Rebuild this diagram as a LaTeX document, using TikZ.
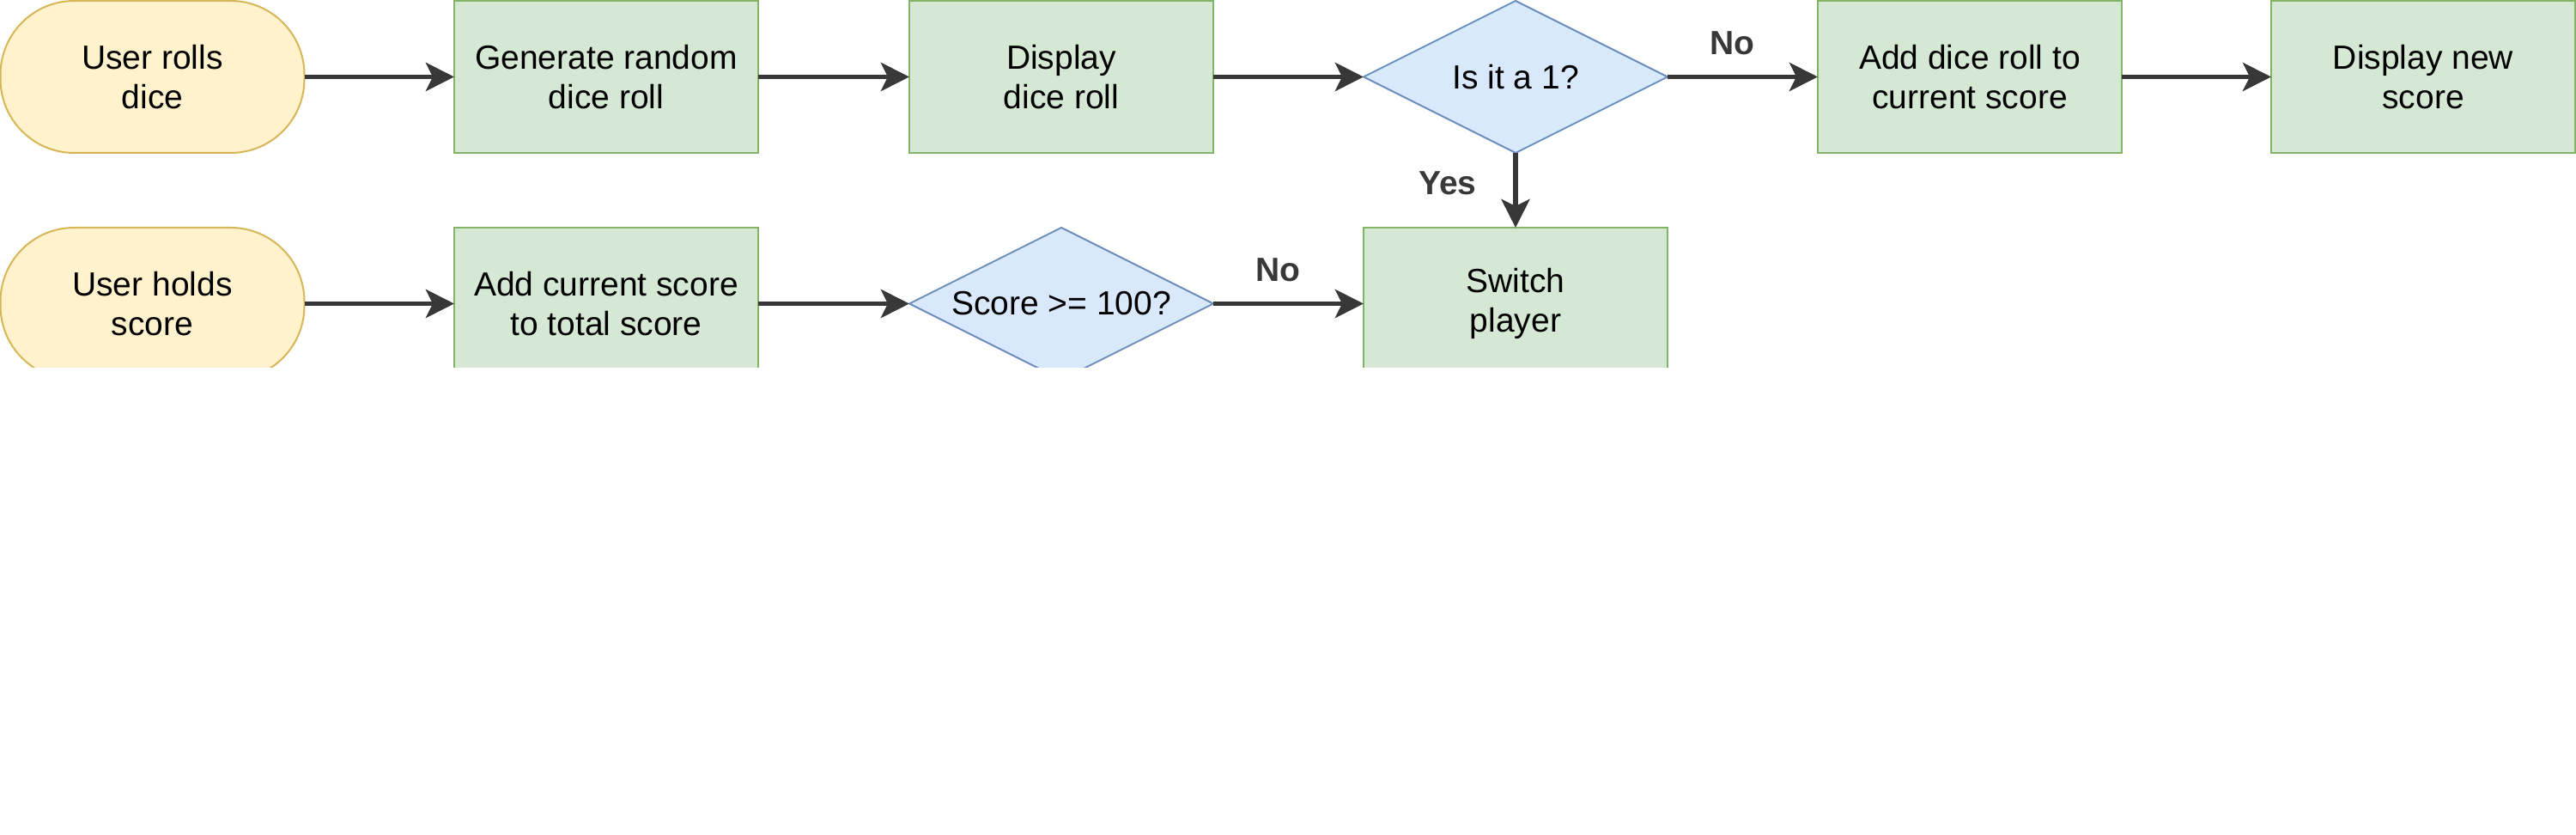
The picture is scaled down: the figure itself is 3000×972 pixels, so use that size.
\documentclass[tikz,border=0pt]{standalone}
\usepackage{fontspec}
\setmainfont{Liberation Sans}
\usetikzlibrary{arrows.meta,shapes.geometric}
\definecolor{gfill}{HTML}{D5E8D4}
\definecolor{gline}{HTML}{82B366}
\definecolor{bfill}{HTML}{DAE8FC}
\definecolor{bline}{HTML}{6C8EBF}
\definecolor{yfill}{HTML}{FFF2CC}
\definecolor{yline}{HTML}{D6B656}
\definecolor{arr}{HTML}{383838}
\begin{document}
\begin{tikzpicture}[x=0.25pt,y=-0.25pt,
 base/.style={minimum width=88.5pt, minimum height=44.25pt, inner sep=0pt, outer sep=0pt, line width=0.5pt, align=center, font=\fontsize{9.75pt}{11.5pt}\selectfont},
 term/.style={base, rectangle, rounded corners=21.5pt, fill=yfill, draw=yline},
 proc/.style={base, rectangle, fill=gfill, draw=gline},
 dec/.style={base, diamond, aspect=2, fill=bfill, draw=bline},
 flow/.style={draw=arr, line width=1.4pt, -{Stealth[length=8.25pt, width=8.25pt, inset=2pt]}},
 lbl/.style={font=\bfseries\fontsize{9.75pt}{11.5pt}\selectfont, text=arr, inner sep=0pt}
]
\useasboundingbox (0,0) rectangle (3000,972);
\clip (0,0) rectangle (3000,428);
% row 1
\node[term] (t1) at (177.5,89.5) {User rolls\\dice};
\node[proc] (g1) at (706,89.5) {Generate random\\dice roll};
\node[proc] (d1) at (1236,89.5) {Display\\dice roll};
\node[dec]  (q1) at (1765,89.5) {Is it a 1?};
\node[proc] (a1) at (2294,89.5) {Add dice roll to\\current score};
\node[proc] (n1) at (2822,89.5) {Display new\\score};
% row 2
\node[term] (t2) at (177.5,353.5) {User holds\\score};
\node[proc] (a2) at (706,353.5) {Add current score\\to total score};
\node[dec]  (q2) at (1236,353.5) {Score >= 100?};
\node[proc] (s2) at (1765,353.5) {Switch\\player};
% connectors
\draw[flow] (t1) -- (g1);
\draw[flow] (g1) -- (d1);
\draw[flow] (d1) -- (q1);
\draw[flow] (q1) -- node[lbl, pos=0.43, yshift=9.75pt] {No} (a1);
\draw[flow] (a1) -- (n1);
\draw[flow] (q1) -- node[lbl, pos=0.41, xshift=-19.75pt] {Yes} (s2);
\draw[flow] (t2) -- (a2);
\draw[flow] (a2) -- (q2);
\draw[flow] (q2) -- node[lbl, pos=0.43, yshift=9.75pt] {No} (s2);
\end{tikzpicture}
\end{document}
